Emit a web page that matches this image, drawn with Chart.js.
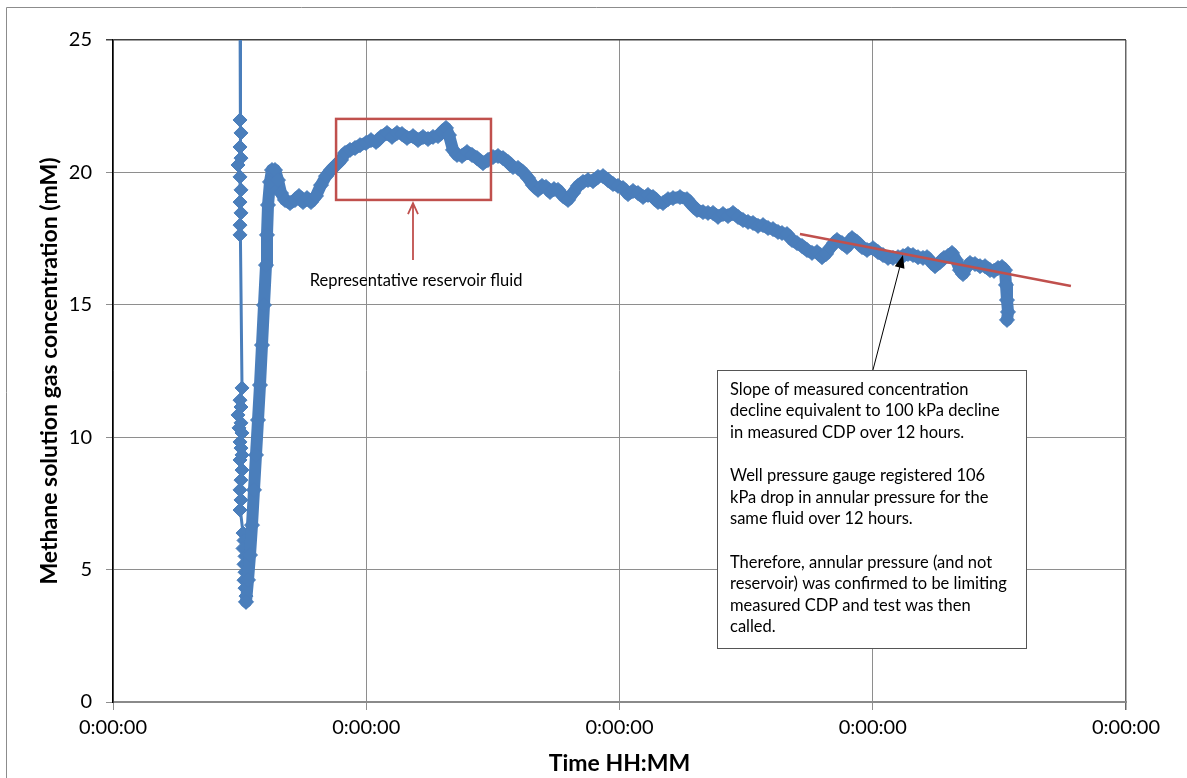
<!DOCTYPE html>
<html>
<head>
<meta charset="utf-8">
<script src="https://cdn.jsdelivr.net/npm/chart.js@4.4.1/dist/chart.umd.min.js"></script>
<style>
  html, body { margin: 0; padding: 0; background: #fff; }
  #wrap { position: relative; width: 1187px; height: 778px; }
</style>
</head>
<body>
<div id="wrap"><canvas id="c" width="1187" height="778"></canvas></div>
<script>
// Elapsed time (hours) and methane concentration (mM) logged by the downhole sensor
const spikeTime = [6.018, 6.018, 6.065, 6.018, 6.065, 5.923, 6.018, 6.065, 6.018, 6.065, 6.018, 6.018,
  6.113, 6.018, 6.065, 5.923, 6.065, 5.970, 6.113, 6.018, 6.065, 6.113, 6.018, 6.113, 6.065, 6.018, 6.065, 6.018,
  6.160, 6.207, 6.160, 6.255, 6.207, 6.255, 6.207, 6.255, 6.302, 6.302];
const spikeConc = [26.5, 21.98, 21.49, 20.96, 20.54, 20.28, 19.83, 19.34, 18.88, 18.47, 18.01, 17.64,
  11.86, 11.40, 11.14, 10.84, 10.54, 10.35, 10.16, 9.82, 9.59, 9.33, 9.14, 8.76, 8.38, 8.01, 7.63, 7.25,
  6.38, 6.10, 5.80, 5.50, 5.20, 4.90, 4.60, 4.30, 4.00, 3.78];

const mainTime = [6.302, 6.397, 6.492, 6.586, 6.681, 6.776, 6.871, 6.965, 7.060, 7.155, 7.250, 7.297, 7.345, 7.439,
  7.534, 7.676, 7.818, 7.961, 8.150, 8.387, 8.624, 8.813, 9.003, 9.192, 9.382, 9.619, 9.856, 10.093, 10.330, 10.567,
  10.804, 10.993, 11.230, 11.467, 11.704, 11.988, 12.225, 12.462, 12.699, 12.983, 13.220, 13.457, 13.694, 13.931,
  14.215, 14.452, 14.689, 14.926, 15.163, 15.400, 15.589, 15.779, 15.921, 16.111, 16.300, 16.537, 16.774, 17.011,
  17.248, 17.532, 17.769, 18.006, 18.243, 18.480, 18.717, 18.954, 19.191, 19.427, 19.664, 19.901, 20.138, 20.328,
  20.517, 20.707, 20.896, 21.086, 21.323, 21.560, 21.797, 22.034, 22.270, 22.507, 22.744, 22.981, 23.218, 23.455,
  23.692, 23.929, 24.166, 24.403, 24.640, 24.877, 25.114, 25.350, 25.587, 25.824, 26.061, 26.298, 26.535, 26.867,
  27.198, 27.435, 27.672, 27.957, 28.193, 28.430, 28.667, 28.904, 29.141, 29.378, 29.615, 29.852, 30.089, 30.326,
  30.563, 30.800, 31.037, 31.273, 31.510, 31.700, 31.937, 32.174, 32.411, 32.648, 32.884, 33.121, 33.358, 33.595,
  33.785, 33.974, 34.164, 34.306, 34.543, 34.780, 35.017, 35.254, 35.491, 35.728, 36.012, 36.249, 36.486, 36.723,
  36.960, 37.196, 37.433, 37.670, 37.907, 38.144, 38.381, 38.571, 38.760, 38.950, 39.187, 39.376, 39.566, 39.755,
  39.945, 40.134, 40.276, 40.419, 40.608, 40.845, 41.082, 41.319, 41.556, 41.745, 41.935, 42.124, 42.267, 42.314,
  42.361, 42.409, 42.361];
const mainConc = [3.78, 4.61, 5.55, 6.68, 8.01, 9.33, 10.65, 11.97, 13.48, 14.99, 16.50, 17.64, 18.77, 19.64,
  20.09, 20.09, 19.71, 19.22, 18.96, 18.84, 18.96, 19.11, 18.88, 19.03, 18.88, 19.11, 19.52, 19.86, 20.09, 20.28,
  20.47, 20.73, 20.85, 20.92, 21.03, 21.11, 21.22, 21.15, 21.34, 21.49, 21.34, 21.49, 21.45, 21.30,
  21.37, 21.22, 21.34, 21.26, 21.34, 21.37, 21.53, 21.68, 21.41, 20.85, 20.66, 20.62, 20.77, 20.66,
  20.54, 20.35, 20.47, 20.58, 20.62, 20.54, 20.39, 20.20, 20.17, 20.01, 19.79, 19.52, 19.34, 19.49,
  19.45, 19.26, 19.37, 19.34, 19.11, 18.96, 19.22, 19.49, 19.64, 19.71, 19.67, 19.83, 19.86, 19.71,
  19.56, 19.49, 19.41, 19.18, 19.30, 19.22, 19.07, 19.15, 19.07, 18.88, 18.84, 18.99, 19.03, 19.07,
  18.99, 18.77, 18.58, 18.50, 18.47, 18.47, 18.32, 18.43, 18.35, 18.47, 18.32, 18.20, 18.13, 18.09,
  17.98, 18.01, 17.90, 17.86, 17.75, 17.71, 17.67, 17.45, 17.33, 17.22, 17.07, 16.96, 16.99, 16.80,
  16.92, 17.14, 17.33, 17.45, 17.33, 17.18, 17.52, 17.37, 17.18, 17.07, 17.14, 16.99, 16.88, 16.77,
  16.77, 16.80, 16.84, 16.92, 16.88, 16.80, 16.77, 16.80, 16.62, 16.46, 16.62, 16.77, 16.84, 16.96,
  16.69, 16.31, 16.16, 16.39, 16.58, 16.54, 16.46, 16.46, 16.31, 16.28, 16.39, 16.43, 16.31, 15.75,
  15.18, 14.73, 14.43];

// Fitted decline over the last part of the test
const trendTime = [32.55, 45.39];
const trendConc = [17.67, 15.71];

const xTickLabels = ['0:00:00', '0:00:00', '0:00:00', '0:00:00', '0:00:00'];

const toPoints = (t, c) => t.map((v, i) => ({ x: v, y: c[i] }));

const BLUE = '#4a7ebb';
const RED = '#c0504d';
const GRID = '#8e8e8e';
const FONT = 'Lato, "Open Sans", "DejaVu Sans", sans-serif';

// Callouts, placed in data units (hours, mM)
const reservoirBox = { t0: 10.57, t1: 17.91, c0: 18.96, c1: 22.02 };
const reservoirArrow = { t: 14.215, cFrom: 16.69, cTo: 18.84 };
const reservoirLabel = { t: 14.36, c: 15.90, text: 'Representative reservoir fluid' };
const noteBox = { t0: 28.62, t1: 43.26, c0: 2.04, c1: 12.54 };
const noteArrow = { tFrom: 36.01, cFrom: 12.54, tTo: 37.43, cTo: 16.88 };
const noteLines = [
  'Slope of measured concentration',
  'decline equivalent to 100 kPa decline',
  'in measured CDP over 12 hours.',
  '',
  'Well pressure gauge registered 106',
  'kPa drop in annular pressure for the',
  'same fluid over 12 hours.',
  '',
  'Therefore, annular pressure (and not',
  'reservoir) was confirmed to be limiting',
  'measured CDP and test was then',
  'called.'
];

const frame = {
  id: 'frame',
  beforeDraw(chart) {
    const ctx = chart.ctx;
    ctx.save();
    ctx.fillStyle = '#fff';
    ctx.fillRect(0, 0, chart.width, chart.height);
    ctx.strokeStyle = '#8c8c8c';
    ctx.lineWidth = 1;
    ctx.beginPath();
    ctx.moveTo(6.5, chart.height);
    ctx.lineTo(6.5, 7.5);
    ctx.lineTo(chart.width, 7.5);
    ctx.stroke();
    ctx.restore();
  }
};

const callouts = {
  id: 'callouts',
  afterDatasetsDraw(chart) {
    const { ctx, scales: { x, y } } = chart;
    ctx.save();

    // reservoir window
    const bx0 = x.getPixelForValue(reservoirBox.t0), bx1 = x.getPixelForValue(reservoirBox.t1);
    const by0 = y.getPixelForValue(reservoirBox.c1), by1 = y.getPixelForValue(reservoirBox.c0);
    ctx.strokeStyle = RED;
    ctx.lineWidth = 2.5;
    ctx.strokeRect(bx0, by0, bx1 - bx0, by1 - by0);

    const ax = x.getPixelForValue(reservoirArrow.t);
    const ayFrom = y.getPixelForValue(reservoirArrow.cFrom);
    const ayTo = y.getPixelForValue(reservoirArrow.cTo);
    ctx.lineWidth = 1.8;
    ctx.beginPath();
    ctx.moveTo(ax, ayFrom);
    ctx.lineTo(ax, ayTo);
    ctx.moveTo(ax - 5, ayTo + 11);
    ctx.lineTo(ax, ayTo);
    ctx.lineTo(ax + 5, ayTo + 11);
    ctx.stroke();

    ctx.fillStyle = '#000';
    ctx.font = '16.5px ' + FONT;
    ctx.textAlign = 'center';
    ctx.textBaseline = 'middle';
    ctx.fillText(reservoirLabel.text, x.getPixelForValue(reservoirLabel.t), y.getPixelForValue(reservoirLabel.c));

    // note pointing at the fitted decline
    const n0x = x.getPixelForValue(noteArrow.tFrom), n0y = y.getPixelForValue(noteArrow.cFrom);
    const n1x = x.getPixelForValue(noteArrow.tTo), n1y = y.getPixelForValue(noteArrow.cTo);
    const ang = Math.atan2(n1y - n0y, n1x - n0x);
    ctx.strokeStyle = '#000';
    ctx.fillStyle = '#000';
    ctx.lineWidth = 1;
    ctx.beginPath();
    ctx.moveTo(n0x, n0y);
    ctx.lineTo(n1x - 10 * Math.cos(ang), n1y - 10 * Math.sin(ang));
    ctx.stroke();
    ctx.beginPath();
    ctx.moveTo(n1x, n1y);
    ctx.lineTo(n1x - 13 * Math.cos(ang) + 5 * Math.sin(ang), n1y - 13 * Math.sin(ang) - 5 * Math.cos(ang));
    ctx.lineTo(n1x - 13 * Math.cos(ang) - 5 * Math.sin(ang), n1y - 13 * Math.sin(ang) + 5 * Math.cos(ang));
    ctx.closePath();
    ctx.fill();

    const tx0 = Math.round(x.getPixelForValue(noteBox.t0)) + 0.5;
    const tx1 = Math.round(x.getPixelForValue(noteBox.t1)) + 0.5;
    const ty0 = Math.round(y.getPixelForValue(noteBox.c1)) + 0.5;
    const ty1 = Math.round(y.getPixelForValue(noteBox.c0)) + 0.5;
    ctx.fillStyle = '#fff';
    ctx.fillRect(tx0, ty0, tx1 - tx0, ty1 - ty0);
    ctx.strokeStyle = '#555';
    ctx.lineWidth = 1;
    ctx.strokeRect(tx0, ty0, tx1 - tx0, ty1 - ty0);

    ctx.fillStyle = '#000';
    ctx.font = '16.5px ' + FONT;
    ctx.textAlign = 'left';
    ctx.textBaseline = 'middle';
    noteLines.forEach((line, i) => {
      ctx.fillText(line, tx0 + 12.5, ty0 + 19 + i * 21.6);
    });

    ctx.restore();
  }
};

new Chart(document.getElementById('c'), {
  type: 'line',
  data: {
    datasets: [
      {
        data: toPoints(trendTime, trendConc),
        borderColor: RED,
        borderWidth: 2.5,
        pointRadius: 0,
        order: 0
      },
      {
        data: toPoints(mainTime, mainConc),
        borderColor: BLUE,
        backgroundColor: BLUE,
        borderWidth: 12,
        borderJoinStyle: 'round',
        borderCapStyle: 'round',
        pointStyle: 'rectRot',
        pointRadius: 7.5,
        pointBorderWidth: 1,
        order: 1
      },
      {
        data: toPoints(spikeTime, spikeConc),
        borderColor: BLUE,
        backgroundColor: BLUE,
        borderWidth: 3,
        pointStyle: 'rectRot',
        pointRadius: 7,
        pointBorderWidth: 1,
        order: 2
      }
    ]
  },
  options: {
    responsive: false,
    animation: false,
    events: [],
    layout: { padding: { left: 0, top: 40, right: 61, bottom: 0 } },
    plugins: { legend: { display: false }, tooltip: { enabled: false } },
    scales: {
      x: {
        type: 'linear',
        min: 0,
        max: 48,
        afterFit: s => { s.height = 76; },
        ticks: {
          stepSize: 12,
          padding: 6,
          color: '#000',
          font: { family: FONT, size: 20 },
          maxRotation: 0,
          callback: (v, i) => xTickLabels[i]
        },
        grid: {
          color: ctx => (ctx.tick && ctx.tick.value === 48 ? '#666' : GRID),
          lineWidth: ctx => (ctx.tick && ctx.tick.value === 48 ? 1.5 : 1),
          tickLength: 8
        },
        border: { color: '#8a8a8a', width: 2 },
        title: {
          display: true,
          text: 'Time HH:MM',
          color: '#000',
          font: { family: FONT, size: 23, weight: 'bold' },
          padding: { top: 0, bottom: 1 }
        }
      },
      y: {
        min: 0,
        max: 25,
        afterFit: s => { s.width = 113; },
        ticks: {
          stepSize: 5,
          padding: 14,
          color: '#000',
          font: { family: FONT, size: 20 }
        },
        grid: {
          color: ctx => (ctx.tick && ctx.tick.value === 25 ? '#404040' : GRID),
          lineWidth: ctx => (ctx.tick && ctx.tick.value === 25 ? 1.5 : 1),
          tickLength: 7
        },
        border: { color: '#000', width: 1.5 },
        title: {
          display: true,
          text: 'Methane solution gas concentration (mM)',
          color: '#000',
          font: { family: FONT, size: 23, weight: 'bold' },
          padding: { top: 36, bottom: 0 }
        }
      }
    }
  },
  plugins: [frame, callouts]
});
</script>
</body>
</html>
